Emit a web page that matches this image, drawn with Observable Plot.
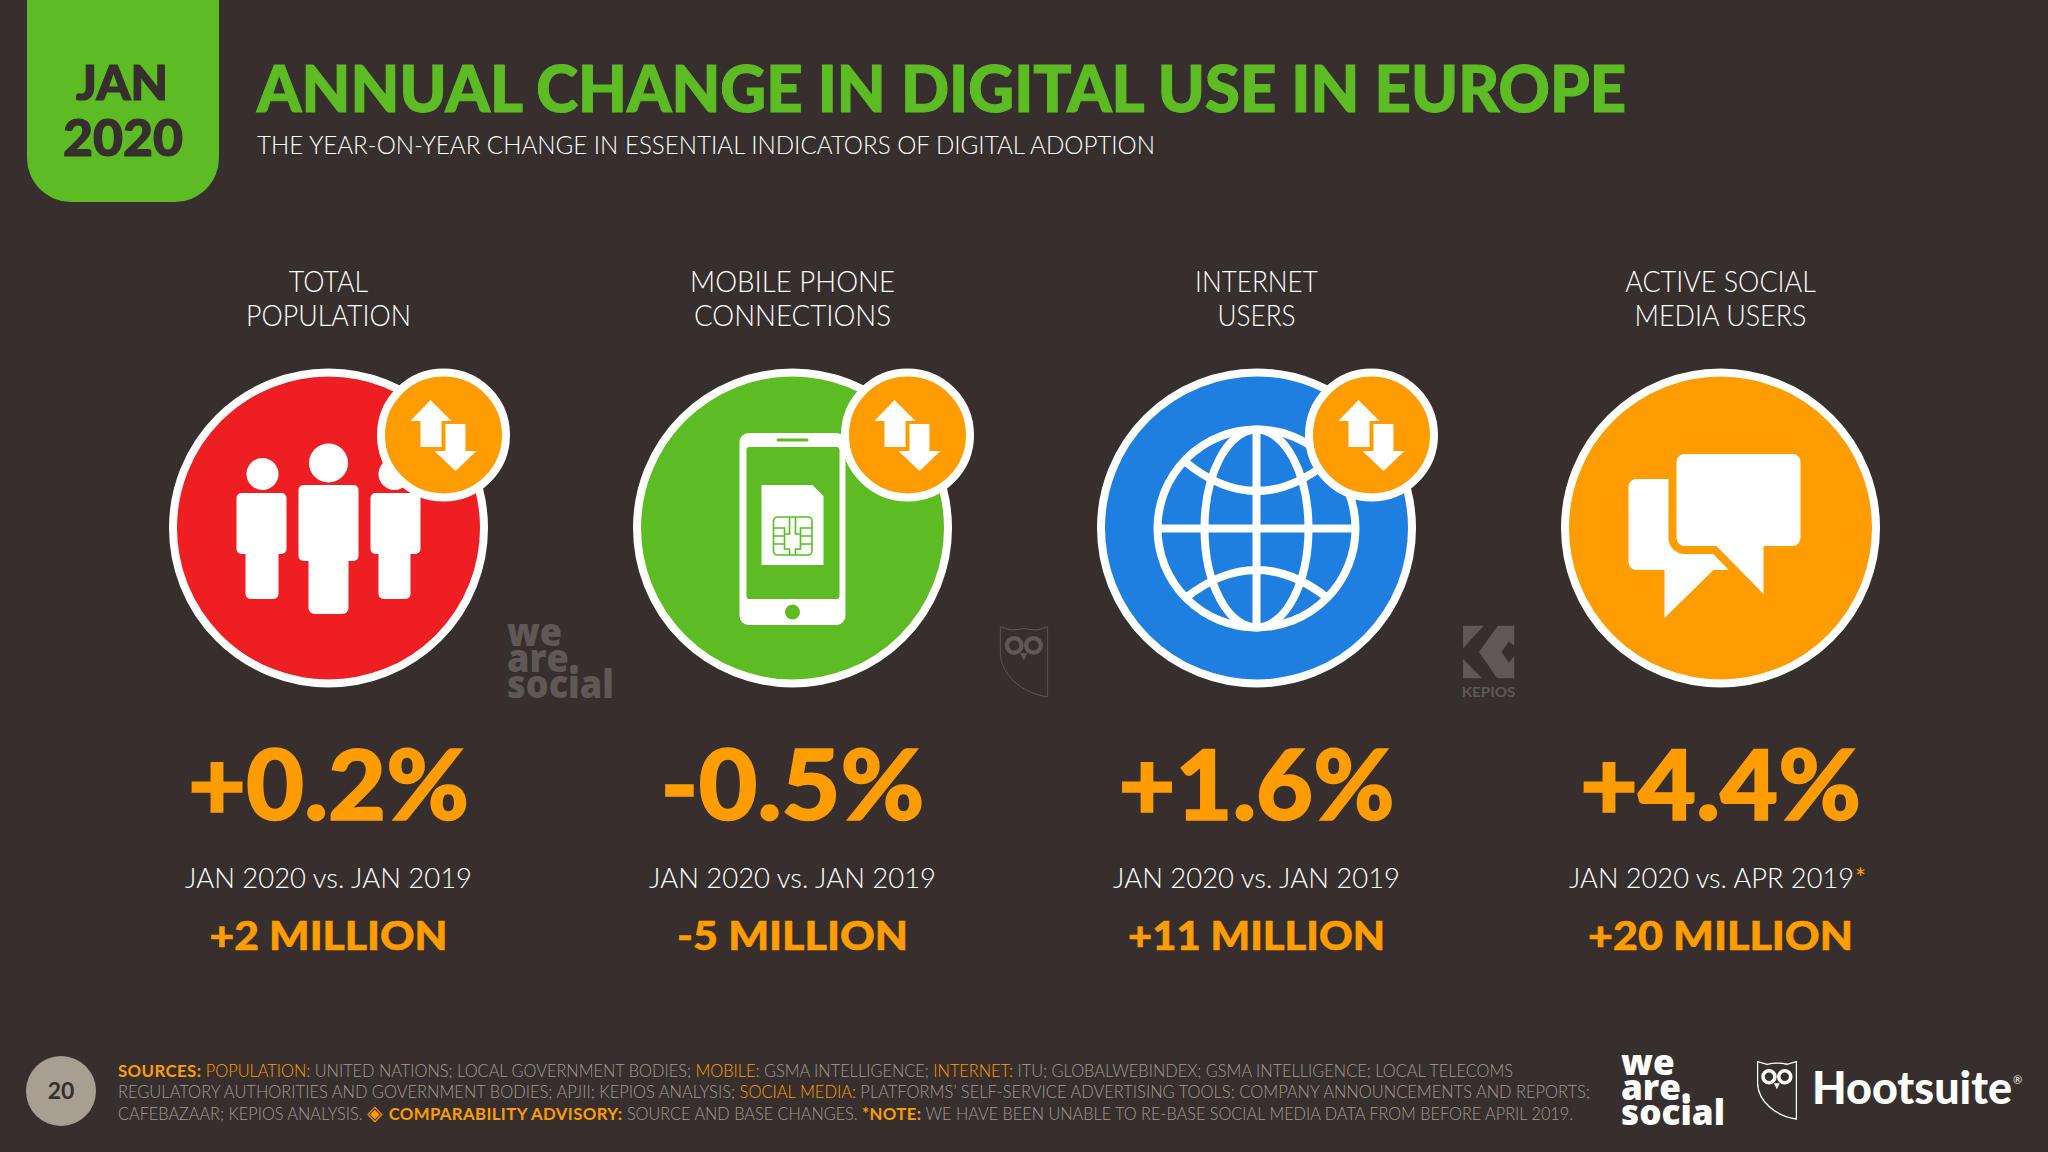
<!DOCTYPE html>
<html lang="en">
<head>
<meta charset="utf-8">
<title>Annual change in digital use in Europe</title>
<script src="https://cdn.jsdelivr.net/npm/d3@7"></script>
<script src="https://cdn.jsdelivr.net/npm/@observablehq/plot@0.6"></script>
<style>
  html, body { margin: 0; padding: 0; background: #372f2d; }
  body { position: relative; width: 2048px; height: 1152px; overflow: hidden; font-family: Lato, "Noto Sans", sans-serif; }
  svg { display: block; }
  #head { position: relative; height: 250px; }
  #foot { position: relative; height: 142px; }
  .abs { position: absolute; white-space: nowrap; line-height: 1; transform-origin: 0 50%; }
  #badge { position: absolute; left: 27px; top: 0; width: 192px; height: 202px; background: #5dbb24; border-radius: 0 0 44px 44px; }
  .o { color: #ff9d00; }
  .b { font-weight: 700; font-size: 17.5px; letter-spacing: .4px; }
  .dia { font-family: "DejaVu Sans"; font-size: 21px; line-height: 0; }
  .heavy { -webkit-text-stroke: 1.2px currentColor; }
  .f-value text { stroke: #ff9d00; stroke-width: 1.6px; }
  .f-delta text { stroke: #ff9d00; stroke-width: .6px; }
</style>
</head>
<body>
<div id="head">
  <div id="badge"></div>
  <div class="abs heavy" data-w="92"  style="left:76px;top:58px;font-size:48px;font-weight:900;color:#372f2d">JAN</div>
  <div class="abs heavy" data-w="120" style="left:63px;top:111px;font-size:51px;font-weight:900;color:#372f2d">2020</div>
  <div class="abs heavy" id="title" data-w="1369" style="left:257px;top:56px;font-size:64px;font-weight:900;color:#5dbb24"></div>
  <div class="abs" id="subtitle" data-w="898" style="left:257px;top:132px;font-size:25px;font-weight:300;color:#ffffff"></div>
</div>
<div id="chart"></div>
<div class="abs" data-w="107" style="left:507px;top:618px;font-size:38px;line-height:26px;font-weight:800;font-family:'Open Sans';color:#5f5856;white-space:pre;transform-origin:0 0">we
are.
social</div>
<div id="foot">
  <div class="abs" style="left:26px;top:46px;width:70px;height:70px;border-radius:50%;background:#a89e92"></div>
  <div class="abs" style="left:26px;top:69px;width:70px;text-align:center;font-size:23px;font-weight:700;color:#372f2d">20</div>
  <div id="notes"></div>
  <div class="abs" data-w="104" style="left:1621px;top:39px;font-size:36px;line-height:25px;font-weight:800;font-family:'Open Sans';color:#fff;white-space:pre;transform-origin:0 0">we
are.
social</div>
  <div id="owl" class="abs" style="left:1757px;top:50px"></div>
  <div class="abs" data-w="200" style="left:1812px;top:55px;font-size:45px;font-weight:900;color:#fff">Hootsuite</div>
  <div class="abs" style="left:2013px;top:64px;font-size:11px;color:#fff">®</div>
</div>
<script>
// ---- Chart values ----
const categories = ["TOTAL\nPOPULATION", "MOBILE PHONE\nCONNECTIONS", "INTERNET\nUSERS", "ACTIVE SOCIAL\nMEDIA USERS"];
const changePercent = [0.2, -0.5, 1.6, 4.4];
const changeMillions = [2, -5, 11, 20];
const periods = ["JAN 2020 vs. JAN 2019", "JAN 2020 vs. JAN 2019", "JAN 2020 vs. JAN 2019", "JAN 2020 vs. APR 2019"];
const footnoteMark = ["", "", "", "*"];
const circleColors = ["#ee1f23", "#5dbb24", "#1f7fe0", "#ff9d00"];
const hasArrows = [true, true, true, false];

const titleText = "ANNUAL CHANGE IN DIGITAL USE IN EUROPE";
const subtitleText = "THE YEAR-ON-YEAR CHANGE IN ESSENTIAL INDICATORS OF DIGITAL ADOPTION";
const notesLines = [
  [["SOURCES:","o b"],[" POPULATION:","o"],[" UNITED NATIONS; LOCAL GOVERNMENT BODIES; ",""],["MOBILE:","o"],[" GSMA INTELLIGENCE; ",""],["INTERNET:","o"],[" ITU; GLOBALWEBINDEX; GSMA INTELLIGENCE; LOCAL TELECOMS",""]],
  [["REGULATORY AUTHORITIES AND GOVERNMENT BODIES; APJII; KEPIOS ANALYSIS; ",""],["SOCIAL MEDIA:","o"],[" PLATFORMS’ SELF-SERVICE ADVERTISING TOOLS; COMPANY ANNOUNCEMENTS AND REPORTS;",""]],
  [["CAFEBAZAAR; KEPIOS ANALYSIS. ",""],["◈ ","o dia"],["COMPARABILITY ADVISORY:","o b"],[" SOURCE AND BASE CHANGES. ",""],["*NOTE:","o b"],[" WE HAVE BEEN UNABLE TO RE-BASE SOCIAL MEDIA DATA FROM BEFORE APRIL 2019.",""]]
];
const notesWidths = [1395, 1472, 1455];

// Widths of the reference's text, used to fit the substitute font
const labelWidths = [165, 205, 123, 191];
const valueWidths = [281, 264, 276, 281];
const periodWidths = [287, 287, 287];
const lastPeriodWidths = [285];
const deltaWidths = [238, 231, 257, 265];
const kepiosWidths = [54];

// ---- Icons ----
const svgUri = (vb, body) => "data:image/svg+xml," + encodeURIComponent(`<svg xmlns="http://www.w3.org/2000/svg" viewBox="${vb}">${body}</svg>`);
const peopleIcon = svgUri("-160 -160 320 320", `<g fill="#fff">
  <circle cx="0" cy="-65" r="19.5"/><path d="M-25 -43H25a5 5 0 0 1 5 5V28a5 5 0 0 1-5 5H20V80a6 6 0 0 1-6 6H-14a6 6 0 0 1-6-6V33H-25a5 5 0 0 1-5-5V-38a5 5 0 0 1 5-5Z"/>
  <circle cx="-66" cy="-54" r="16"/><path d="M-87 -35H-47a5 5 0 0 1 5 5V21a5 5 0 0 1-5 5H-50V66a5 5 0 0 1-5 5H-78a5 5 0 0 1-5-5V26H-87a5 5 0 0 1-5-5V-30a5 5 0 0 1 5-5Z"/>
  <circle cx="66" cy="-54" r="16"/><path d="M47 -35H87a5 5 0 0 1 5 5V21a5 5 0 0 1-5 5H82V66a5 5 0 0 1-5 5H55a5 5 0 0 1-5-5V26H47a5 5 0 0 1-5-5V-30a5 5 0 0 1 5-5Z"/>
</g>`);
const phoneIcon = svgUri("-160 -160 320 320", `
  <rect x="-53" y="-95" width="106" height="192" rx="9" fill="#fff"/>
  <rect x="-46" y="-81" width="93" height="152" rx="3" fill="#5dbb24"/>
  <rect x="-16" y="-89.5" width="32" height="3" rx="1.5" fill="#5dbb24"/>
  <circle cx="0" cy="84" r="7.5" fill="#5dbb24"/>
  <path d="M-31 -43H20L31 -32V37H-31Z" fill="#fff"/>
  <g fill="none" stroke="#5dbb24" stroke-width="1.6">
    <rect x="-19" y="-11" width="38.5" height="38" rx="4"/>
    <path d="M-19 0H-8V6H-3V-11M19.5 0H8V6H3V-11M-19 16H-8V12M19.5 16H8V12M-8 6V21H-3V27M8 6V21H3V27M-19 8H-8M8 8H19.5"/>
  </g>`);
const globeIcon = svgUri("-160 -160 320 320", `<g fill="none" stroke="#fff" stroke-width="8">
  <circle cx="0" cy="0.5" r="99"/>
  <ellipse cx="0" cy="0.5" rx="52" ry="99"/>
  <path d="M0 -99V100M-99 0.5H99M-71 -66Q0 -8 71 -66M-71 70Q0 14 71 70"/>
</g>`);
const chatIcon = svgUri("-160 -160 320 320", `
  <path fill="#fff" d="M-84 -49H8V42H-7L-56 90V42H-84a8 8 0 0 1-8-8V-41a8 8 0 0 1 8-8Z"/>
  <path fill="#fff" stroke="#ff9d00" stroke-width="16" stroke-linejoin="round" paint-order="stroke" d="M-36 -74H72a8 8 0 0 1 8 8V10a8 8 0 0 1-8 8H43V66L-4 18H-36a8 8 0 0 1-8-8V-66a8 8 0 0 1 8-8Z"/>`);
const arrowsIcon = svgUri("-50 -50 100 100", `<path fill="#fff" d="M-13 -35L8 -14H-2V12H-23V-14H-33ZM2 -11H22V16H33L12 36L-9 16H2Z"/>`);
const owlSvg = (c, sw) => `<path d="M2 4L37 14Q73 5 110 14L145 4V215C70 205 2 150 2 80Z" fill="none" stroke="${c}" stroke-width="${sw}"/>
  <circle cx="44" cy="60" r="22" fill="none" stroke="${c}" stroke-width="13"/><circle cx="102" cy="60" r="22" fill="none" stroke="${c}" stroke-width="13"/>
  <path d="M62 84H84L73 106Z" fill="${c}"/>`;
const owlMark = svgUri("0 0 147 217", owlSvg("#5f5856", 3));
const kepiosMark = svgUri("0 0 157 160", `<path fill="#5f5856" d="M0 0H65L0 70ZM0 100V160H60ZM107 0H157V62L140 48L118 80L140 112L157 92V160H105L50 80Z"/>`);
const icons = [peopleIcon, phoneIcon, globeIcon, chatIcon];

const rows = categories.map((name, i) => ({
  name, pct: changePercent[i], abs: changeMillions[i], period: periods[i],
  mark: footnoteMark[i], color: circleColors[i], icon: icons[i], arrows: hasArrows[i]
}));
const signed = (v, s) => (v < 0 ? "-" : "+") + s(Math.abs(v));

const orange = "#ff9d00";
const font = "Lato";
const atTop = {frameAnchor: "top", x: "name"};
const textAtTop = {...atTop, lineAnchor: "middle", textAnchor: "middle"};

const plot = Plot.plot({
  width: 2048, height: 760,
  margin: 0,
  style: {background: "transparent", overflow: "visible"},
  x: {type: "point", domain: categories, range: [328, 1720], padding: 0, axis: null},
  color: {type: "identity"},
  marks: [
    Plot.text(rows, {...textAtTop, text: "name", dy: 47.5, fill: "#fff", fontFamily: font, fontWeight: 300, fontSize: 29, lineHeight: 1.17, className: "f-label"}),
    Plot.dot(rows, {...atTop, dy: 277.5, r: 155.5, fill: "color", stroke: "#fff", strokeWidth: 8}),
    Plot.image(rows, {...atTop, dy: 277.5, src: "icon", width: 320, height: 320}),
    Plot.dot(rows.filter(d => d.arrows), {...atTop, dx: 115, dy: 184.5, r: 62.5, fill: orange, stroke: "#fff", strokeWidth: 8}),
    Plot.image(rows.filter(d => d.arrows), {...atTop, dx: 115, dy: 184.5, src: () => arrowsIcon, width: 100, height: 100}),
    Plot.text(rows, {...textAtTop, text: d => signed(d.pct, v => v.toFixed(1)) + "%", dy: 538, fill: orange, fontFamily: font, fontWeight: 900, fontSize: 98, className: "f-value"}),
    Plot.text(rows.filter(d => !d.mark), {...textAtTop, text: "period", dy: 628.5, fill: "#fff", fontFamily: font, fontWeight: 300, fontSize: 28, className: "f-period"}),
    Plot.text(rows.filter(d => d.mark), {...textAtTop, text: "period", dx: -9, dy: 628.5, fill: "#fff", fontFamily: font, fontWeight: 300, fontSize: 28, className: "f-last"}),
    Plot.text(rows.filter(d => d.mark), {...textAtTop, text: "mark", dx: 140, dy: 629, fill: orange, fontFamily: font, fontSize: 26}),
    Plot.text(rows, {...textAtTop, text: d => signed(d.abs, String) + " MILLION", dy: 686.5, fill: orange, fontFamily: font, fontWeight: 900, fontSize: 40, className: "f-delta"}),
    // watermarks
    Plot.image([owlMark], {frameAnchor: "top-left", dx: 1023.5, dy: 411, src: d => d, width: 49, height: 72}),
    Plot.image([kepiosMark], {frameAnchor: "top-left", dx: 1488, dy: 401.5, src: d => d, width: 52, height: 53}),
    Plot.text(["KEPIOS"], {frameAnchor: "top-left", dx: 1488, dy: 442, text: d => d, textAnchor: "middle", lineAnchor: "middle", fill: "#5f5856", fontFamily: font, fontWeight: 700, fontSize: 14, className: "f-kep"})
  ]
});
document.getElementById("chart").append(plot);

// Header and footer text
document.getElementById("title").textContent = titleText;
document.getElementById("subtitle").textContent = subtitleText;
document.getElementById("owl").innerHTML = `<svg width="40" height="60" viewBox="0 0 147 217">${owlSvg("#fff", 5)}</svg>`;
const notes = document.getElementById("notes");
notesLines.forEach((line, i) => {
  const div = document.createElement("div");
  div.className = "abs";
  div.dataset.w = notesWidths[i];
  div.style.cssText = `left:118px;top:${51.5 + i * 21.5}px;font-size:17px;font-weight:300;color:#a39b94`;
  line.forEach(([t, c]) => { const s = document.createElement("span"); s.className = c; s.textContent = t; div.append(s); });
  notes.append(div);
});

// Horizontal fit of the substitute font to the reference's text widths
function fitAll() {
  document.querySelectorAll(".abs[data-w]").forEach(el => {
    el.style.transform = "";
    const r = document.createRange(); r.selectNodeContents(el);
    el.style.transform = `scaleX(${+el.dataset.w / r.getBoundingClientRect().width})`;
  });
  const targets = {"f-label": labelWidths, "f-value": valueWidths, "f-period": periodWidths, "f-last": lastPeriodWidths, "f-delta": deltaWidths, "f-kep": kepiosWidths};
  for (const [cls, widths] of Object.entries(targets)) {
    plot.querySelectorAll(`.${cls} text`).forEach((t, i) => {
      const k = widths[i] / t.getBBox().width;
      t.setAttribute("transform", (t.getAttribute("transform") || "") + ` scale(${k},1)`);
    });
  }
}
(document.fonts && document.fonts.ready ? document.fonts.ready : Promise.resolve()).then(fitAll);
</script>
</body>
</html>
